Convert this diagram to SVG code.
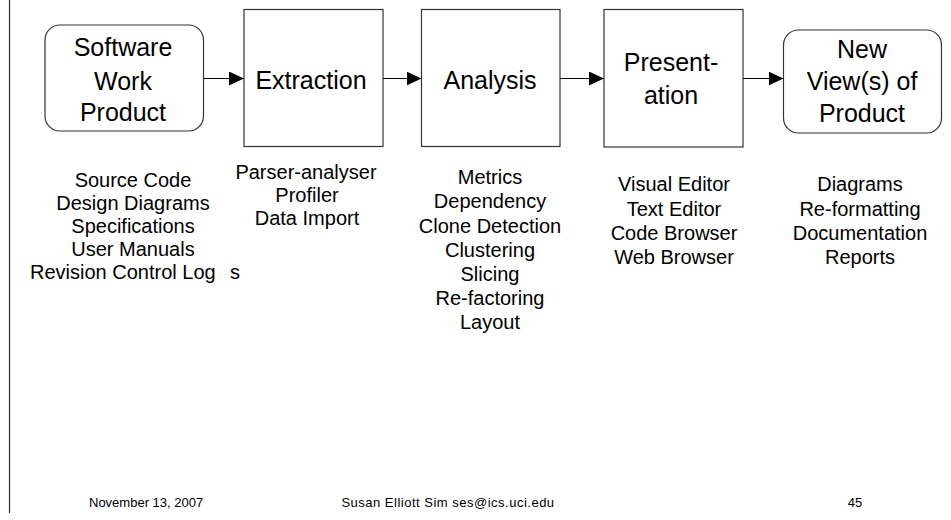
<svg xmlns="http://www.w3.org/2000/svg" width="951" height="520" viewBox="0 0 951 520">
  <style>
    .box { fill: #ffffff; stroke: #333333; stroke-width: 1.2; }
    .edge { stroke: #000000; stroke-width: 1.2; fill: none; }
    .title { font-family: "Liberation Sans", Arial, sans-serif; font-size: 25px; fill: #000000; text-anchor: middle; }
    .item { font-family: "Liberation Sans", Arial, sans-serif; font-size: 20px; fill: #000000; text-anchor: middle; }
    .foot { font-family: "Liberation Sans", Arial, sans-serif; font-size: 13px; fill: #000000; }
  </style>
  <defs>
    <marker id="arrow" viewBox="0 0 15 14" refX="15" refY="7" markerWidth="15" markerHeight="14" markerUnits="userSpaceOnUse" orient="auto">
      <path d="M0,0 L15,7 L0,14 Z" fill="#000000"/>
    </marker>
  </defs>

  <rect width="951" height="520" fill="#ffffff"/>
  <!-- left page rule -->
  <line x1="9.5" y1="0" x2="9.5" y2="513" stroke="#333333" stroke-width="1.2"/>

  <g id="connectors">
    <line class="edge" x1="204" y1="78.5" x2="244" y2="78.5" marker-end="url(#arrow)"/>
    <line class="edge" x1="383" y1="78.5" x2="421.5" y2="78.5" marker-end="url(#arrow)"/>
    <line class="edge" x1="560" y1="78.5" x2="604" y2="78.5" marker-end="url(#arrow)"/>
    <line class="edge" x1="743" y1="78.5" x2="783.5" y2="78.5" marker-end="url(#arrow)"/>
  </g>

  <g id="software-work-product">
    <rect class="box" x="45" y="25" width="158.5" height="106" rx="15" ry="15"/>
    <text class="title" x="123" y="56">Software</text>
    <text class="title" x="123" y="90">Work</text>
    <text class="title" x="123" y="121">Product</text>
  </g>

  <g id="extraction">
    <rect class="box" x="244" y="9.5" width="139" height="137"/>
    <text class="title" x="311" y="89">Extraction</text>
  </g>

  <g id="analysis">
    <rect class="box" x="421.5" y="9.5" width="138.5" height="137"/>
    <text class="title" x="490" y="89">Analysis</text>
  </g>

  <g id="presentation">
    <rect class="box" x="604" y="9.5" width="139" height="137.5"/>
    <text class="title" x="671" y="71">Present-</text>
    <text class="title" x="671" y="104">ation</text>
  </g>

  <g id="new-views">
    <rect class="box" x="783.5" y="30" width="158" height="103" rx="15" ry="15"/>
    <text class="title" x="862" y="58">New</text>
    <text class="title" x="862" y="90">View(s) of</text>
    <text class="title" x="862" y="122">Product</text>
  </g>

  <g id="inputs">
    <text class="item" x="133" y="187">Source Code</text>
    <text class="item" x="133" y="210">Design Diagrams</text>
    <text class="item" x="133" y="233">Specifications</text>
    <text class="item" x="133" y="256">User Manuals</text>
    <text class="item" x="30" y="279" style="text-anchor:start">Revision Control Log <tspan x="230">s</tspan></text>
  </g>

  <g id="extraction-tools">
    <text class="item" x="306" y="179">Parser-analyser</text>
    <text class="item" x="307" y="202">Profiler</text>
    <text class="item" x="307" y="225">Data Import</text>
  </g>

  <g id="analysis-tools">
    <text class="item" x="490" y="184">Metrics</text>
    <text class="item" x="490" y="208">Dependency</text>
    <text class="item" x="490" y="233">Clone Detection</text>
    <text class="item" x="490" y="257">Clustering</text>
    <text class="item" x="490" y="281">Slicing</text>
    <text class="item" x="490" y="305">Re-factoring</text>
    <text class="item" x="490" y="329">Layout</text>
  </g>

  <g id="presentation-tools">
    <text class="item" x="674" y="191">Visual Editor</text>
    <text class="item" x="674" y="216">Text Editor</text>
    <text class="item" x="674" y="240">Code Browser</text>
    <text class="item" x="674" y="264">Web Browser</text>
  </g>

  <g id="outputs">
    <text class="item" x="860" y="191">Diagrams</text>
    <text class="item" x="860" y="216">Re-formatting</text>
    <text class="item" x="860" y="240">Documentation</text>
    <text class="item" x="860" y="264">Reports</text>
  </g>

  <g id="footer">
    <text class="foot" x="89" y="507">November 13, 2007</text>
    <text class="foot" x="448" y="507" text-anchor="middle" letter-spacing="0.5">Susan Elliott Sim ses@ics.uci.edu</text>
    <text class="foot" x="855" y="507" text-anchor="middle">45</text>
  </g>
</svg>
